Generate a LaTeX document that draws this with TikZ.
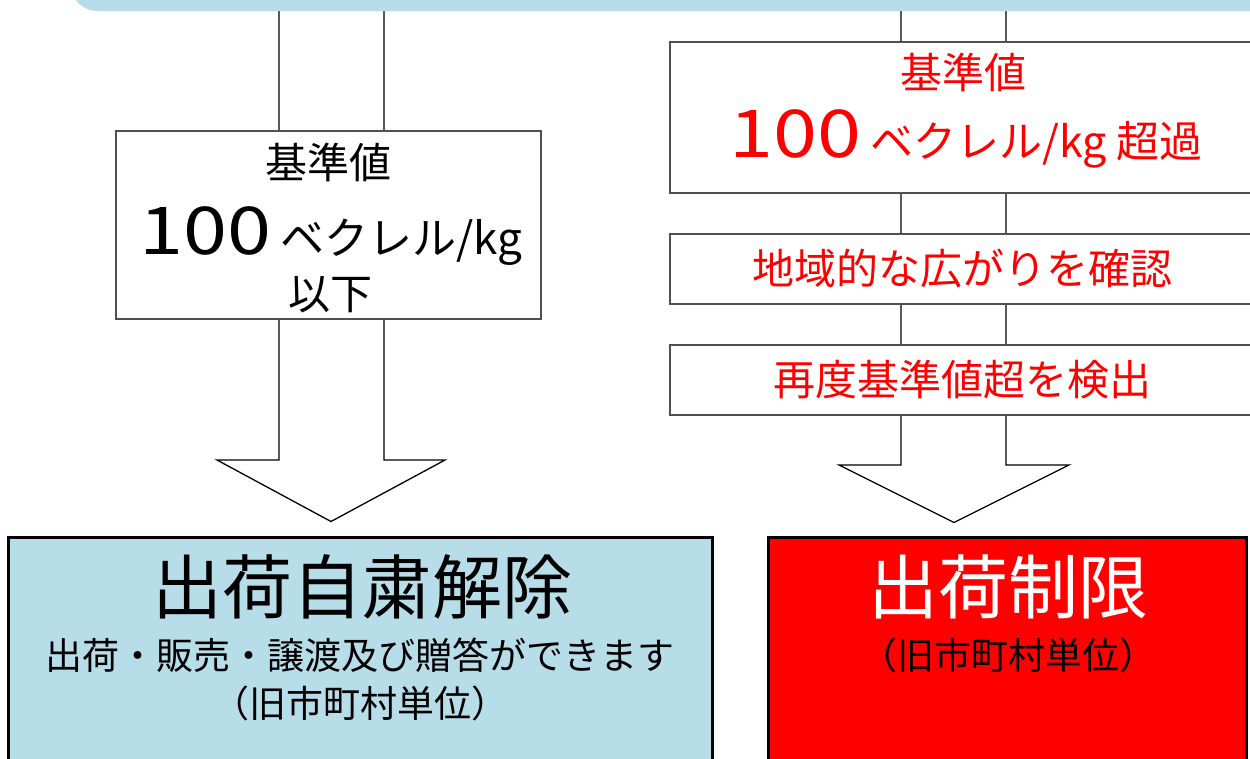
\documentclass[tikz,border=0pt]{standalone}
\usepackage{fontspec}
\setmainfont{Noto Sans CJK JP}
\usetikzlibrary{calc}
\definecolor{barblue}{RGB}{183,222,232}
\definecolor{boxline}{RGB}{80,80,80}
\definecolor{pure red}{RGB}{255,0,0}
\newcommand{\bignum}{{\fontsize{66}{70}\selectfont\scalebox{1.2}[1]{100}}}
\begin{document}
\begin{tikzpicture}[x=1pt,y=-1pt,
  stepbox/.style={draw=boxline, line width=1.3pt, fill=white, rectangle, inner sep=0pt},
  bigbox/.style={draw=black, line width=3pt, rectangle, inner sep=0pt},
  blockarrow/.style={draw=black, line width=1.3pt, fill=white, line join=miter},
  txt/.style={inner sep=0pt, font=\fontsize{42}{48}\selectfont},
  redtxt/.style={txt, text=pure red},
  huge/.style={inner sep=0pt, font=\fontsize{70}{80}\selectfont},
  mid/.style={inner sep=0pt, font=\fontsize{37}{42}\selectfont},
]
\useasboundingbox (0,0) rectangle (1250,758);

% top bar
\node[fill=barblue, rounded corners=28pt, minimum width=1240pt, minimum height=60pt, inner sep=0pt] (bar) at (690,-19) {};

% outcome boxes
\node[bigbox, fill=barblue, minimum width=704pt, minimum height=233pt] (release) at (360,653.5) {};
\node[bigbox, fill=pure red, minimum width=478pt, minimum height=233pt] (restrict) at (1007,653.5) {};

% block arrows (connectors bar -> outcome)
\draw[blockarrow] (bar.south -| 279,0) -- (279,460) -- (217,460) -- ($(release.north -| 331,0)+(0,-14)$) -- (445,460) -- (384,460) -- (bar.south -| 384,0);
\draw[blockarrow] (bar.south -| 901,0) -- (901,465) -- (839,465) -- ($(restrict.north -| 954,0)+(0,-13)$) -- (1069,465) -- (1006,465) -- (bar.south -| 1006,0);
\node[fill=barblue, rounded corners=28pt, minimum width=1240pt, minimum height=60pt, inner sep=0pt] (barcover) at (bar.center) {};

% left step box
\node[stepbox, minimum width=425pt, minimum height=188pt] (below) at (328.5,225) {};
\node[txt] (b1) at (328,162) {基準値};
\node[txt] (b2) at (331,236) {\bignum\ {\fontsize{44}{48}\selectfont ベクレル/kg}};
\node[txt] (b3) at (330,295) {以下};

% right step boxes
\node[stepbox, minimum width=590pt, minimum height=151pt] (over) at (965,117.5) {};
\node[redtxt] (o1) at (963,72) {基準値};
\node[redtxt] (o2) at (966,139) {\bignum\ {\fontsize{43}{48}\selectfont ベクレル/kg 超過}};

\node[stepbox, minimum width=590pt, minimum height=70pt] (spread) at (965,269) {};
\node[redtxt] (s1) at (962,268) {地域的な広がりを確認};

\node[stepbox, minimum width=590pt, minimum height=70pt] (again) at (965,380) {};
\node[redtxt] (a1) at (962,380) {再度基準値超を検出};

% outcome texts
\node[huge] (r1) at (362,587) {出荷自粛解除};
\node[mid] (r2) at (360,655) {出荷・販売・譲渡及び贈答ができます};
\node[mid] (r3) at (360,703) {（旧市町村単位）};

\node[huge, text=white] (x1) at (1008,587) {出荷制限};
\node[mid] (x2) at (1008,655) {（旧市町村単位）};
\end{tikzpicture}
\end{document}
